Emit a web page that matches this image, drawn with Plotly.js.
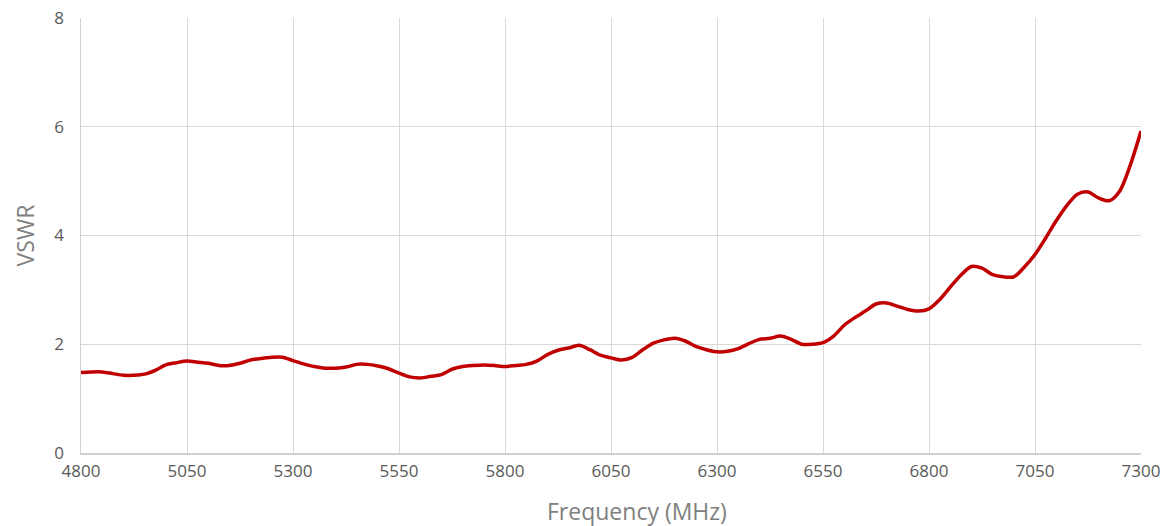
<!DOCTYPE html>
<html>
<head>
<meta charset="utf-8">
<script src="https://cdn.plot.ly/plotly-3.0.1.min.js"></script>
<style>html,body{margin:0;padding:0;background:#fff;}#chart{width:1168px;height:526px;}</style>
</head>
<body>
<div id="chart"></div>
<script>
const frequency = [4800,4825,4850,4875,4900,4925,4950,4975,5000,5025,5050,5075,5100,5125,5150,5175,5200,5225,5250,5275,5300,5325,5350,5375,5400,5425,5450,5475,5500,5525,5550,5575,5600,5625,5650,5675,5700,5725,5750,5775,5800,5825,5850,5875,5900,5925,5950,5975,6000,6025,6050,6075,6100,6125,6150,6175,6200,6225,6250,6275,6300,6325,6350,6375,6400,6425,6450,6475,6500,6525,6550,6575,6600,6625,6650,6675,6700,6725,6750,6775,6800,6825,6850,6875,6900,6925,6950,6975,7000,7025,7050,7075,7100,7125,7150,7175,7200,7225,7250,7275,7300];
const vswr = [1.48,1.49,1.49,1.46,1.43,1.43,1.45,1.52,1.62,1.66,1.69,1.67,1.65,1.61,1.61,1.65,1.71,1.74,1.76,1.76,1.70,1.64,1.59,1.56,1.56,1.58,1.63,1.63,1.60,1.55,1.47,1.40,1.38,1.41,1.44,1.54,1.59,1.61,1.62,1.61,1.59,1.61,1.63,1.69,1.81,1.89,1.93,1.98,1.90,1.80,1.75,1.71,1.76,1.90,2.02,2.08,2.11,2.06,1.96,1.90,1.86,1.87,1.92,2.01,2.09,2.11,2.15,2.09,2.00,2.00,2.03,2.15,2.35,2.49,2.61,2.74,2.76,2.70,2.64,2.61,2.65,2.82,3.05,3.27,3.43,3.40,3.28,3.24,3.24,3.42,3.65,3.95,4.27,4.55,4.76,4.80,4.69,4.64,4.82,5.30,5.92];
const xTicks = [4800,5050,5300,5550,5800,6050,6300,6550,6800,7050,7300];
const yTicks = [0,2,4,6,8];
const xTitle = 'Frequency (MHz)';
const yTitle = 'VSWR';

const font = "'Open Sans', 'Liberation Sans', sans-serif";

Plotly.newPlot('chart', [{
  x: frequency,
  y: vswr,
  type: 'scatter',
  mode: 'lines',
  line: {color: '#c00000', width: 3.5, shape: 'spline', smoothing: 0.8},
  hoverinfo: 'x+y'
}], {
  width: 1168,
  height: 526,
  margin: {l: 81, r: 27, t: 18, b: 73},
  paper_bgcolor: '#ffffff',
  plot_bgcolor: '#ffffff',
  showlegend: false,
  font: {family: font, color: '#595959', size: 16},
  xaxis: {
    range: [4800, 7300],
    tickvals: xTicks,
    ticktext: xTicks.map(String),
    showgrid: true,
    gridcolor: '#d9d9d9',
    gridwidth: 1,
    zeroline: false,
    showline: true,
    linecolor: '#d0d0d0',
    linewidth: 1.5,
    ticks: 'outside',
    ticklen: 2,
    tickcolor: 'rgba(0,0,0,0)',
    tickfont: {family: font, size: 17, color: '#595959'}
  },
  yaxis: {
    range: [0, 8],
    tickvals: yTicks,
    ticktext: yTicks.map(String),
    showgrid: true,
    gridcolor: '#d9d9d9',
    gridwidth: 1,
    zeroline: false,
    showline: true,
    linecolor: '#d0d0d0',
    linewidth: 1.5,
    ticks: 'outside',
    ticklen: 12,
    tickcolor: 'rgba(0,0,0,0)',
    tickfont: {family: font, size: 17, color: '#595959'},
    title: {text: yTitle, font: {family: font, size: 23, color: '#7f7f7f'}, standoff: 13}
  },
  annotations: [{
    text: xTitle,
    xref: 'paper', yref: 'paper',
    x: 0.5245, y: -0.133,
    xanchor: 'center', yanchor: 'middle',
    showarrow: false,
    font: {family: font, size: 23, color: '#7f7f7f'}
  }]
}, {displayModeBar: false, staticPlot: true});
</script>
</body>
</html>
